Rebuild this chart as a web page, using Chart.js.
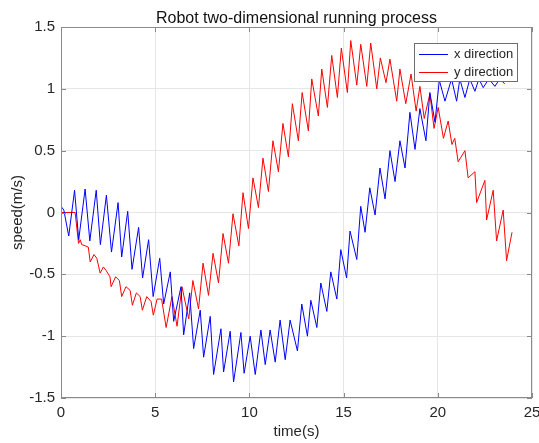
<!DOCTYPE html>
<html>
<head>
<meta charset="utf-8">
<script src="https://cdn.jsdelivr.net/npm/chart.js@4.4.1/dist/chart.umd.min.js"></script>
<style>
  html, body { margin: 0; padding: 0; background: #fff; }
  #wrap { width: 539px; height: 443px; }
</style>
</head>
<body>
<div id="wrap"><canvas id="run"></canvas></div>
<script>
// x direction speed (m/s) against time (s)
const xTime = [0, 0.15, 0.41, 0.72, 0.94, 1.28, 1.53, 1.87, 2.09, 2.41, 2.68, 3.03, 3.22, 3.54, 3.77, 4.12, 4.33, 4.65, 4.89, 5.24,
  5.45, 5.80, 5.98, 6.37, 6.51, 6.83, 7.04, 7.39, 7.57, 7.92, 8.10, 8.49, 8.63, 8.98, 9.16, 9.55, 9.72, 10.04, 10.31, 10.61,
  10.84, 11.10, 11.37, 11.63, 11.90, 12.16, 12.55, 12.78, 13.08, 13.26, 13.58, 13.79, 14.11, 14.32, 14.64, 14.85, 15.16, 15.34, 15.70, 15.91,
  16.14, 16.39, 16.67, 16.93, 17.20, 17.46, 17.73, 17.99, 18.26, 18.52, 18.79, 19.05, 19.37, 19.58, 19.85, 20.08, 20.38, 20.73, 21.00, 21.17,
  21.44, 21.70, 21.97, 22.18, 22.41, 22.71, 23.03, 23.29, 23.55];
const xSpeed = [0.05, 0.02, -0.19, 0.18, -0.22, 0.19, -0.23, 0.18, -0.26, 0.14, -0.32, 0.08, -0.36, 0.01, -0.46, -0.12, -0.53, -0.22, -0.68, -0.37,
  -0.74, -0.48, -0.88, -0.60, -0.99, -0.65, -1.10, -0.79, -1.17, -0.84, -1.31, -0.94, -1.29, -0.96, -1.37, -0.97, -1.30, -1.00, -1.31, -0.95,
  -1.23, -0.95, -1.21, -0.87, -1.19, -0.87, -1.12, -0.74, -1.00, -0.71, -0.93, -0.57, -0.80, -0.48, -0.70, -0.30, -0.53, -0.15, -0.38, 0.05,
  -0.16, 0.20, -0.02, 0.36, 0.11, 0.50, 0.25, 0.58, 0.36, 0.81, 0.51, 0.84, 0.58, 0.97, 0.73, 1.07, 0.90, 1.08, 0.90, 1.08,
  0.93, 1.08, 0.98, 1.08, 1.01, 1.08, 1.02, 1.08, 1.04];

// y direction speed (m/s) against time (s)
const yTime = [0, 0.75, 0.93, 1.02, 1.10, 1.30, 1.45, 1.55, 1.75, 1.90, 2.08, 2.25, 2.40, 2.60, 2.66, 2.90, 3.10, 3.22, 3.45, 3.67,
  3.79, 4.00, 4.20, 4.32, 4.55, 4.78, 4.90, 5.10, 5.34, 5.58, 5.89, 6.16, 6.42, 6.78, 7.00, 7.30, 7.54, 7.83, 8.07, 8.36,
  8.60, 8.89, 9.13, 9.44, 9.66, 9.95, 10.19, 10.48, 10.72, 11.01, 11.25, 11.54, 11.78, 12.07, 12.28, 12.60, 12.80, 13.13, 13.31, 13.66,
  13.84, 14.14, 14.37, 14.67, 14.88, 15.20, 15.38, 15.70, 15.91, 16.23, 16.44, 16.76, 16.95, 17.25, 17.46, 17.82, 17.99, 18.30, 18.58, 18.85,
  19.05, 19.28, 19.58, 19.80, 20.02, 20.30, 20.55, 20.75, 20.90, 21.08, 21.44, 21.61, 21.97, 22.06, 22.50, 22.59, 22.94, 23.12, 23.47, 23.65,
  23.94];
const ySpeed = [0, 0, -0.25, -0.22, -0.26, -0.27, -0.28, -0.40, -0.34, -0.37, -0.49, -0.44, -0.47, -0.52, -0.60, -0.52, -0.55, -0.68, -0.60, -0.63,
  -0.75, -0.65, -0.68, -0.79, -0.68, -0.72, -0.83, -0.70, -0.70, -0.93, -0.68, -0.92, -0.60, -0.86, -0.55, -0.78, -0.41, -0.67, -0.33, -0.57,
  -0.17, -0.41, -0.01, -0.27, 0.16, -0.13, 0.28, 0.04, 0.44, 0.17, 0.58, 0.33, 0.72, 0.45, 0.88, 0.58, 0.97, 0.66, 1.08, 0.78,
  1.16, 0.85, 1.27, 0.93, 1.33, 0.97, 1.39, 1.03, 1.36, 1.02, 1.37, 1.00, 1.25, 1.05, 1.24, 0.90, 1.16, 0.88, 1.12, 0.82,
  1.02, 0.76, 0.96, 0.68, 0.85, 0.60, 0.74, 0.55, 0.60, 0.41, 0.50, 0.28, 0.33, 0.08, 0.26, -0.06, 0.18, -0.23, 0.02, -0.39,
  -0.16];

const xTicks = [0, 5, 10, 15, 20, 25];
const yTicks = [-1.5, -1, -0.5, 0, 0.5, 1, 1.5];
const seriesNames = ['x direction', 'y direction'];
const seriesColors = ['#0000ff', '#ff0000'];

const toPoints = (ts, vs) => ts.map((t, i) => ({ x: t, y: vs[i] }));

const AXIS = '#8a8a8a';
const TEXT = '#262626';
const FONT = "'Liberation Sans', Arial, sans-serif";

// matlab-like box: frame, inward tick marks, boxed legend
const boxPlugin = {
  id: 'box',
  afterDatasetsDraw(chart) {
    const { ctx, chartArea: a, scales } = chart;
    ctx.save();
    ctx.strokeStyle = AXIS;
    ctx.lineWidth = 1;
    ctx.strokeRect(a.left + 0.5, a.top + 0.5, a.right - a.left - 1, a.bottom - a.top - 1);
    ctx.beginPath();
    xTicks.forEach(v => {
      const px = Math.round(scales.x.getPixelForValue(v)) + 0.5;
      ctx.moveTo(px, a.bottom); ctx.lineTo(px, a.bottom - 5);
      ctx.moveTo(px, a.top); ctx.lineTo(px, a.top + 5);
    });
    yTicks.forEach(v => {
      const py = Math.round(scales.y.getPixelForValue(v)) + 0.5;
      ctx.moveTo(a.left, py); ctx.lineTo(a.left + 5, py);
      ctx.moveTo(a.right, py); ctx.lineTo(a.right - 5, py);
    });
    ctx.stroke();

    // legend
    const w = 104, h = 39;
    const lx = a.right - 14 - w, ly = a.top + 16;
    ctx.fillStyle = '#fff';
    ctx.fillRect(lx, ly, w, h);
    ctx.strokeStyle = '#6e6e6e';
    ctx.strokeRect(lx + 0.5, ly + 0.5, w - 1, h - 1);
    ctx.font = '13px ' + FONT;
    ctx.textBaseline = 'middle';
    seriesNames.forEach((name, i) => {
      const y = Math.round(ly + 11 + i * 18) + 0.5;
      ctx.strokeStyle = seriesColors[i];
      ctx.beginPath();
      ctx.moveTo(lx + 5, y); ctx.lineTo(lx + 34, y);
      ctx.stroke();
      ctx.fillStyle = TEXT;
      ctx.fillText(name, lx + 40, y);
    });
    ctx.restore();
  }
};

new Chart(document.getElementById('run'), {
  type: 'line',
  data: {
    datasets: [
      { label: seriesNames[0], data: toPoints(xTime, xSpeed), borderColor: seriesColors[0], borderWidth: 1, pointRadius: 0, tension: 0 },
      { label: seriesNames[1], data: toPoints(yTime, ySpeed), borderColor: seriesColors[1], borderWidth: 1, pointRadius: 0, tension: 0 }
    ]
  },
  options: {
    responsive: true,
    maintainAspectRatio: false,
    animation: false,
    layout: { padding: { left: 0, right: 7, top: 0, bottom: 0 } },
    scales: {
      x: {
        type: 'linear',
        min: 0, max: 25,
        afterBuildTicks: s => { s.ticks = xTicks.map(v => ({ value: v })); },
        afterFit: s => { s.height = 45; s.paddingLeft = 0; s.paddingRight = 0; },
        grid: { color: '#e6e6e6', drawTicks: false },
        border: { display: false },
        ticks: { color: TEXT, font: { family: FONT, size: 15 }, padding: 6, maxRotation: 0, callback: v => String(v) },
        title: { display: true, text: 'time(s)', color: TEXT, font: { family: FONT, size: 15, lineHeight: 1.2 }, padding: { top: 0, bottom: 2 } }
      },
      y: {
        min: -1.5, max: 1.5,
        afterBuildTicks: s => { s.ticks = yTicks.map(v => ({ value: v })); },
        afterFit: s => { s.width = 61; },
        grid: { color: '#e6e6e6', drawTicks: false },
        border: { display: false },
        ticks: { color: TEXT, font: { family: FONT, size: 15 }, padding: 6, callback: v => String(v) },
        title: { display: true, text: 'speed(m/s)', color: TEXT, font: { family: FONT, size: 15, lineHeight: 1.2 }, padding: { top: 9, bottom: 0 } }
      }
    },
    plugins: {
      legend: { display: false },
      tooltip: { enabled: false },
      title: {
        display: true,
        fullSize: false,
        text: 'Robot two-dimensional running process',
        color: '#111',
        font: { family: FONT, size: 16, weight: 'normal', lineHeight: 1 },
        padding: { top: 11, bottom: 0 }
      }
    }
  },
  plugins: [boxPlugin]
});
</script>
</body>
</html>
